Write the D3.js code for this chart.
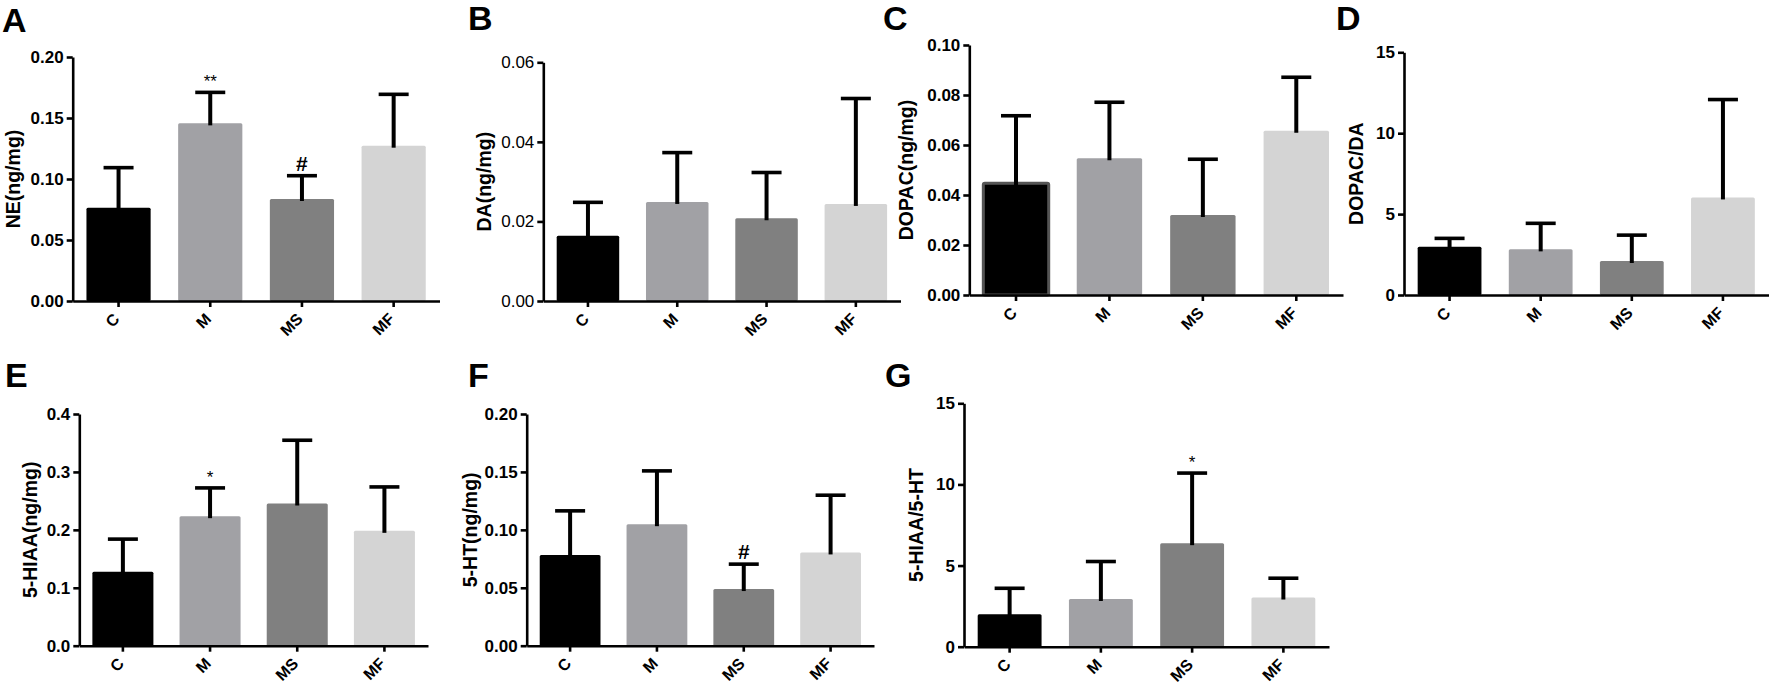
<!DOCTYPE html>
<html>
<head>
<meta charset="utf-8">
<script src="https://cdn.jsdelivr.net/npm/d3@7"></script>
<style>
body { margin: 0; background: #fff; }
text { font-family: "Liberation Sans", Arial, Helvetica, sans-serif; }
</style>
</head>
<body>
<div id="figure"></div>
<script>
// groups on every x axis
var groups = ["C", "M", "MS", "MF"];

// A - NE(ng/mg)
var neMean = [0.0765, 0.1456, 0.0836, 0.1273];
var neSD = [0.0328, 0.0254, 0.0191, 0.0421];
var neMarks = ["", "**", "#", ""];
var neTicks = [0, 0.05, 0.10, 0.15, 0.20];

// B - DA(ng/mg)
var daMean = [0.0164, 0.0249, 0.0208, 0.0244];
var daSD = [0.0084, 0.0124, 0.0115, 0.0265];
var daMarks = ["", "", "", ""];
var daTicks = [0, 0.02, 0.04, 0.06];

// C - DOPAC(ng/mg)
var dopacMean = [0.0447, 0.0547, 0.0320, 0.0657];
var dopacSD = [0.0270, 0.0224, 0.0223, 0.0214];
var dopacMarks = ["", "", "", ""];
var dopacTicks = [0, 0.02, 0.04, 0.06, 0.08, 0.10];

// D - DOPAC/DA
var ratioDaMean = [2.98, 2.82, 2.10, 6.03];
var ratioDaSD = [0.52, 1.61, 1.60, 6.05];
var ratioDaMarks = ["", "", "", ""];
var ratioDaTicks = [0, 5, 10, 15];

// E - 5-HIAA(ng/mg)
var hiaaMean = [0.1276, 0.2236, 0.2455, 0.1983];
var hiaaSD = [0.0564, 0.0488, 0.1092, 0.0758];
var hiaaMarks = ["", "*", "", ""];
var hiaaTicks = [0, 0.1, 0.2, 0.3, 0.4];

// F - 5-HT(ng/mg)
var htMean = [0.0782, 0.1049, 0.0489, 0.0805];
var htSD = [0.0382, 0.0460, 0.0215, 0.0494];
var htMarks = ["", "", "#", ""];
var htTicks = [0, 0.05, 0.10, 0.15, 0.20];

// G - 5-HIAA/5-HT
var ratioHtMean = [2.00, 2.94, 6.38, 3.03];
var ratioHtSD = [1.60, 2.31, 4.32, 1.19];
var ratioHtMarks = ["", "", "*", ""];
var ratioHtTicks = [0, 5, 10, 15];

var barColors = ["#000000", "#a1a1a5", "#808080", "#d4d4d4"];

var svg = d3.select("#figure")
  .append("svg")
	.attr("width", 1772)
	.attr("height", 689);

var panels = [
	{letter: "A", lx: 2, ly: 32, label: "NE(ng/mg)", labX: 20, mean: neMean, sd: neSD, marks: neMarks,
	 ticks: neTicks, fmt: ".2f", x0: 72.7, x1: 439.5, yTop: 57, yBot: 301, bold: true},
	{letter: "B", lx: 468, ly: 30, label: "DA(ng/mg)", labX: 491, mean: daMean, sd: daSD, marks: daMarks,
	 ticks: daTicks, fmt: ".2f", x0: 543.3, x1: 900.5, yTop: 62.3, yBot: 301, bold: false},
	{letter: "C", lx: 883, ly: 30, label: "DOPAC(ng/mg)", labX: 913, mean: dopacMean, sd: dopacSD, marks: dopacMarks,
	 ticks: dopacTicks, fmt: ".2f", x0: 969.3, x1: 1343, yTop: 45, yBot: 295, bold: true, outline: true},
	{letter: "D", lx: 1336, ly: 30, label: "DOPAC/DA", labX: 1363, mean: ratioDaMean, sd: ratioDaSD, marks: ratioDaMarks,
	 ticks: ratioDaTicks, fmt: "d", x0: 1404, x1: 1768.5, yTop: 52.3, yBot: 295, bold: true},
	{letter: "E", lx: 5, ly: 387, label: "5-HIAA(ng/mg)", labX: 37, mean: hiaaMean, sd: hiaaSD, marks: hiaaMarks,
	 ticks: hiaaTicks, fmt: ".1f", x0: 79.3, x1: 428, yTop: 414, yBot: 645.7, bold: true},
	{letter: "F", lx: 468, ly: 387, label: "5-HT(ng/mg)", labX: 476.5, mean: htMean, sd: htSD, marks: htMarks,
	 ticks: htTicks, fmt: ".2f", x0: 526.7, x1: 874, yTop: 414, yBot: 645.7, bold: true},
	{letter: "G", lx: 885, ly: 387, label: "5-HIAA/5-HT", labX: 923, mean: ratioHtMean, sd: ratioHtSD, marks: ratioHtMarks,
	 ticks: ratioHtTicks, fmt: "d", x0: 964, x1: 1329, yTop: 403.3, yBot: 646.7, bold: true}
];

function drawPanel(p)
{
	var g = svg.append("g");

	// Add X scale
	var x = d3.scaleBand()
		.domain(groups)
		.range([p.x0, p.x1])
		.paddingInner(0.3)
		.paddingOuter(0.15);

	// Add Y scale
	var y = d3.scaleLinear()
		.domain([0, p.ticks[p.ticks.length - 1]])
		.range([p.yBot, p.yTop]);

	// bars
	g.append("g")
		.selectAll("rect")
		.data(groups)
		.enter()
		.append("rect")
		  .attr("x", function (d) { return x(d); })
		  .attr("y", function (d, i) { return y(p.mean[i]); })
		  .attr("width", x.bandwidth())
		  .attr("height", function (d, i) { return y(0) - y(p.mean[i]); })
		  .attr("rx", 1.5)
		  .attr("fill", function (d, i) { return barColors[i]; })
		  .attr("stroke", function (d, i) { return (p.outline && i == 0) ? "#555" : "none"; })
		  .attr("stroke-width", 3);

	// error bars (upper only)
	var eb = g.append("g")
		.selectAll("g")
		.data(groups)
		.enter()
		.append("g");
	eb.append("line")
		.attr("x1", function (d) { return x(d) + x.bandwidth() / 2; })
		.attr("x2", function (d) { return x(d) + x.bandwidth() / 2; })
		.attr("y1", function (d, i) { return y(p.mean[i]) + 2; })
		.attr("y2", function (d, i) { return y(p.mean[i] + p.sd[i]); })
		.attr("stroke", "#000")
		.attr("stroke-width", 4);
	eb.append("line")
		.attr("x1", function (d) { return x(d) + x.bandwidth() / 2 - 15; })
		.attr("x2", function (d) { return x(d) + x.bandwidth() / 2 + 15; })
		.attr("y1", function (d, i) { return y(p.mean[i] + p.sd[i]); })
		.attr("y2", function (d, i) { return y(p.mean[i] + p.sd[i]); })
		.attr("stroke", "#000")
		.attr("stroke-width", 3.6);

	// significance marks
	g.append("g")
		.selectAll("text")
		.data(groups)
		.enter()
		.append("text")
		  .attr("text-anchor", "middle")
		  .attr("x", function (d) { return x(d) + x.bandwidth() / 2; })
		  .attr("y", function (d, i) { return y(p.mean[i] + p.sd[i]) - 5; })
		  .attr("font-size", function (d, i) { return p.marks[i] == "#" ? 21 : 17; })
		  .attr("font-weight", function (d, i) { return p.marks[i] == "#" ? "bold" : "normal"; })
		  .text(function (d, i) { return p.marks[i]; });

	// Add Y axis
	var yAxis = g.append("g")
		.attr("transform", "translate(" + p.x0 + ",0)")
		.call(d3.axisLeft(y).tickValues(p.ticks).tickFormat(d3.format(p.fmt)).tickSize(6).tickSizeOuter(0).tickPadding(3));

	// Add X axis
	var xAxis = g.append("g")
		.attr("transform", "translate(0," + p.yBot + ")")
		.call(d3.axisBottom(x).tickSize(6).tickSizeOuter(0));

	[yAxis, xAxis].forEach(function (a) {
		a.select(".domain").attr("stroke", "#000").attr("stroke-width", 2.6);
		a.selectAll(".tick line").attr("stroke", "#000").attr("stroke-width", 2.6);
	});

	yAxis.selectAll(".tick text")
		.attr("fill", "#000")
		.attr("font-size", 17)
		.attr("font-weight", p.bold ? "bold" : "normal");

	xAxis.selectAll(".tick text")
		.attr("fill", "#000")
		.attr("font-size", 16)
		.attr("font-weight", "bold")
		.attr("text-anchor", "end")
		.attr("x", -2)
		.attr("y", 15)
		.attr("dy", "0.35em")
		.attr("transform", "rotate(-45,-2,15)");

	// y label
	g.append("text")
		.attr("text-anchor", "middle")
		.attr("transform", "translate(" + p.labX + "," + ((p.yTop + p.yBot) / 2) + ") rotate(-90)")
		.attr("font-size", 19.5)
		.attr("font-weight", "bold")
		.text(p.label);

	// panel letter
	g.append("text")
		.attr("x", p.lx)
		.attr("y", p.ly)
		.attr("font-size", 34)
		.attr("font-weight", "bold")
		.text(p.letter);
}

panels.forEach(drawPanel);
</script>
</body>
</html>
